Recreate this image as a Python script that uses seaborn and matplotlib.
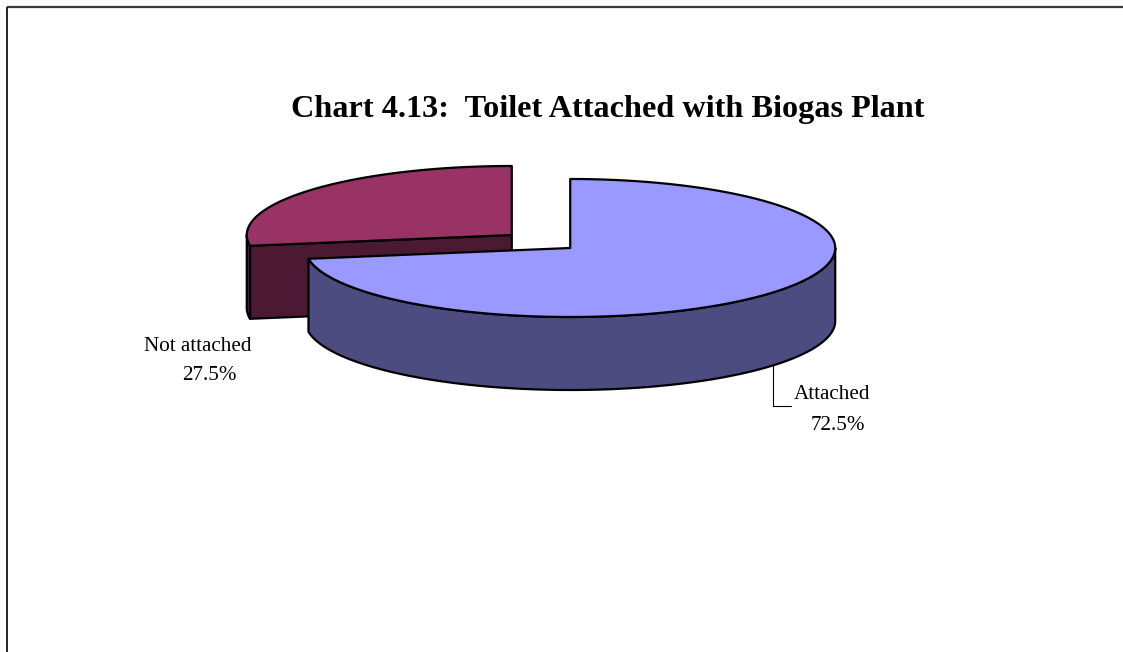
import numpy as np
import matplotlib
matplotlib.use("Agg")
import matplotlib.pyplot as plt
from matplotlib.patches import Polygon
import seaborn as sns

# Survey shares (percent)
categories = ["Attached", "Not attached"]
shares = [72.5, 27.5]
top_colors = ["#9999FF", "#993366"]
side_colors = ["#4C4C80", "#4C1933"]
title = "Chart 4.13:  Toilet Attached with Biogas Plant"

sns.set_theme(style="white")
plt.rcParams["font.family"] = ["Liberation Serif", "DejaVu Serif"]

W, H = 1123, 652
fig = plt.figure(figsize=(W / 100, H / 100), dpi=100)
ax = fig.add_axes([0, 0, 1, 1])
ax.set_xlim(0, W)
ax.set_ylim(H, 0)
ax.axis("off")

# Projected 3-D pie geometry (screen units, y grows downward)
CX, CY = 541.0, 241.5
RX, RY = 265.0, 69.0
DEPTH = 73.0
EXPLODE = 0.145
EDGE = dict(edgecolor="black", linewidth=1.6, joinstyle="round")


def rim(cx, cy, theta_deg, drop=0.0):
    t = np.radians(theta_deg)
    return np.column_stack([cx + RX * np.cos(t), cy - RY * np.sin(t) + drop])


# slice angle ranges: start at 12 o'clock, run clockwise
total = float(sum(shares))
slices = []
acc = 90.0
for v in shares:
    a0 = acc
    acc -= 360.0 * v / total
    a1 = acc
    mid = np.radians((a0 + a1) / 2)
    cx = CX + EXPLODE * RX * np.cos(mid)
    cy = CY - EXPLODE * RY * np.sin(mid)
    slices.append((cx, cy, a0, a1))


def radial_wall(i, angle, z):
    cx, cy = slices[i][0], slices[i][1]
    p = rim(cx, cy, angle)[0]
    quad = np.array([[cx, cy], p, p + [0, DEPTH], [cx, cy + DEPTH]])
    ax.add_patch(Polygon(quad, closed=True, facecolor=side_colors[i], zorder=z, **EDGE))


def draw_slice(i, z):
    cx, cy, a0, a1 = slices[i]
    lo, hi = min(a0, a1), max(a0, a1)
    # cut faces: draw only those whose outward normal faces the viewer
    if np.sin(np.radians(a0 + 90)) < -1e-6:
        radial_wall(i, a0, z)
    if np.sin(np.radians(a1 - 90)) < -1e-6:
        radial_wall(i, a1, z)
    # outer wall along the front half of the rim
    for k in range(-2, 2):
        s0 = max(lo, 180 + 360 * k)
        s1 = min(hi, 360 + 360 * k)
        if s1 > s0:
            th = np.linspace(s0, s1, 200)
            top = rim(cx, cy, th)
            bot = rim(cx, cy, th[::-1], DEPTH)
            ax.add_patch(Polygon(np.vstack([top, bot]), closed=True,
                                 facecolor=side_colors[i], zorder=z + 0.1, **EDGE))
    # top face
    th = np.linspace(a0, a1, 400)
    face = np.vstack([[cx, cy], rim(cx, cy, th)])
    ax.add_patch(Polygon(face, closed=True, facecolor=top_colors[i], zorder=z + 0.2, **EDGE))


draw_slice(1, 2)
draw_slice(0, 3)

# data labels
lab_font = dict(fontsize=15.2, color="black", ha="center", va="baseline")
ax.text(198, 351, categories[1], **lab_font)
ax.text(209, 380, f"{shares[1]:.1f}%", **lab_font)
ax.text(832, 399, categories[0], **lab_font)
ax.text(838, 430, f"{shares[0]:.1f}%", **lab_font)

# leader line from the attached slice's lower rim to its label
lx = 773.0
cx0, cy0 = slices[0][0], slices[0][1]
t = np.arccos((lx - cx0) / RX)
y_edge = cy0 + RY * np.sin(t) + DEPTH
ax.plot([lx, lx, 791], [y_edge, 406, 406], color="black", lw=0.8, zorder=5)

# title
ax.text(608, 117, title, fontsize=23.2, fontweight="bold", ha="center",
        va="baseline", color="black")

# chart area border
ax.plot([7, W], [7, 7], color="#3a3a3a", lw=1.6, solid_capstyle="butt")
ax.plot([7, 7], [7, H], color="black", lw=1.2, solid_capstyle="butt")

fig.savefig("out.png", dpi=100)
